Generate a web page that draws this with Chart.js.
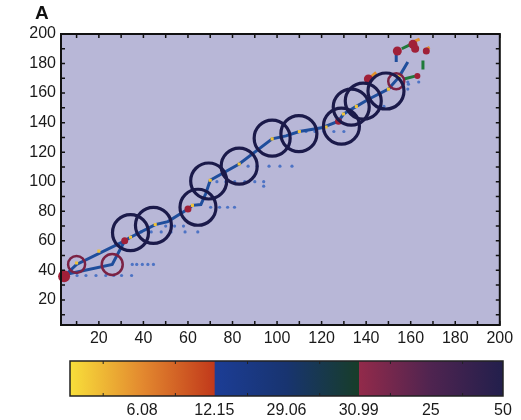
<!DOCTYPE html>
<html>
<head>
<meta charset="utf-8">
<script src="https://cdn.jsdelivr.net/npm/chart.js@4.4.1/dist/chart.umd.min.js"></script>
<style>
  html, body { margin: 0; padding: 0; background: #fff; overflow: hidden; }
  #wrap { position: relative; width: 521px; height: 420px; }
  #main { position: absolute; left: 0; top: 0; }
  #bar { position: absolute; left: 0; top: 345px; }
  #panel { position: absolute; left: 35px; top: 2px; font: bold 19px "Liberation Sans", Arial, sans-serif; color: #111; }
</style>
</head>
<body>
<div id="wrap">
  <canvas id="main" width="521" height="350"></canvas>
  <canvas id="bar" width="521" height="75"></canvas>
  <div id="panel">A</div>
</div>
<script>
// axes
const axisMin = 3;
const axisMax = 200;
const axisTicks = [10, 20, 30, 40, 50, 60, 70, 80, 90, 100, 110, 120, 130, 140, 150, 160, 170, 180, 190, 200];

// two early branches that meet at the first red point
const branchAX = [4.4, 10, 31.6];
const branchAY = [36, 44, 60];
const branchBX = [4.4, 26, 31.6];
const branchBY = [37, 44, 60];

// main trajectory
const pathX = [31.6, 34.2, 45.3, 51, 60, 62, 65.8, 68, 70, 83, 97.8, 104, 110, 120, 127.6, 129.8, 135.6, 141.3, 150, 154.7, 158.7];
const pathY = [60, 62.4, 71, 73, 81.5, 84, 84.5, 92, 101, 112, 129, 131, 134, 136.5, 141, 145.8, 151, 156, 162.7, 170.8, 181];

// yellow marks along the path
const markX = [10, 20, 34.2, 45.3, 62, 70, 83, 97.8, 110, 122, 129.8, 135.6, 150, 155];
const markY = [45, 53, 62.4, 71, 84, 101, 112, 129, 134, 137, 145.8, 151, 162.7, 172];

// faint blue dotted traces
const traceX = [10.2, 14.2, 18.7, 23.1, 26.7, 30.2, 34.7,
                35, 37, 39.5, 42, 44.5,
                39, 43.5, 48, 52.4, 58.7, 64.4, 50, 54, 58,
                70.2, 74.2, 77.8, 80.9,
                73, 77, 81, 85.5, 90, 94, 94,
                87, 91, 96.4, 101.3, 106.7,
                113, 117, 121, 125.5, 130,
                148, 158.7, 163.6, 158.7, 159];
const traceY = [36.5, 36.5, 36.5, 36.5, 36.5, 36.5, 36.5,
                44, 44, 44, 44, 44,
                66, 66, 66, 66, 66, 66, 70, 70, 70,
                82.7, 82.7, 82.7, 82.7,
                100, 100, 100, 100, 100, 100, 97,
                110.5, 110.5, 110.5, 110.5, 110.5,
                134, 134, 134, 134, 134,
                151, 167.5, 167.5, 162.7, 166];

// large dark circles
const bigCircleX = [34.2, 44.5, 64.5, 69.3, 83, 97.8, 109.8, 128.9, 133.3, 138.7, 148.9];
const bigCircleY = [65.5, 70.5, 82.7, 100.5, 110.5, 129.5, 132.5, 137.6, 150.5, 154.6, 161.4];

// small crimson rings
const ringX = [10, 26, 153.5];
const ringY = [44, 44, 168];
const ringR = [8.5, 10.5, 8];

// filled red dots
const dotX = [4.4, 31.6, 60, 127.6, 141, 154, 161, 162, 167, 163];
const dotY = [36, 60, 81.5, 141, 169.5, 188.5, 193, 190, 188.5, 171.5];
const dotR = [6, 3.5, 3.5, 3.5, 4.5, 4.5, 4.5, 4, 3.5, 3];

// short coloured strokes in the end cluster (null breaks segments)
const greenX = [156, 160, null, 165.5, 165.5, null, 157, 162];
const greenY = [190, 193, null, 176, 182, null, 169.5, 171.5];
const blueStickX = [153.5, 153.5];
const blueStickY = [181, 186];
const orangeX = [141, 144.5, null, 160, 164, null, 166, 168.5];
const orangeY = [169.5, 174, null, 194, 196.5, null, 189, 191];

// colour bar
const cbSegments = [[0, 1], [1, 2], [2, 3]];
const cbStops = [
  ['#f8df3a', '#e3892f', '#c1391b'],
  ['#1c3d96', '#183470', '#173d29'],
  ['#932a4a', '#4f2450', '#221f4c']
];
const cbTickValues = [0.5, 1, 1.5, 2, 2.5, 3];
const cbTickLabels = ['6.08', '12.15', '29.06', '30.99', '25', '50'];
const cbMinorTicks = [0.23, 0.73, 1.23, 1.73, 2.22, 2.72];

const toPts = (xs, ys) => xs.map((x, i) => (x === null ? { x: null, y: null } : { x, y: ys[i] }));

const plotBg = '#b8b7d7';
const textColor = '#1a1a1a';
const tickFont = { family: '"Liberation Sans", Arial, sans-serif', size: 16 };

// background, frame and inward tick marks
const framePlugin = {
  id: 'frame',
  beforeDraw(chart) {
    const { ctx, chartArea: a } = chart;
    ctx.save();
    ctx.fillStyle = plotBg;
    ctx.fillRect(a.left, a.top, a.width, a.height);
    ctx.restore();
  },
  afterDatasetsDraw(chart) {
    const { ctx, chartArea: a, scales } = chart;
    ctx.save();
    ctx.strokeStyle = '#111';
    ctx.lineWidth = 1.5;
    ctx.beginPath();
    axisTicks.forEach(v => {
      const px = scales.x.getPixelForValue(v);
      const py = scales.y.getPixelForValue(v);
      ctx.moveTo(px, a.bottom); ctx.lineTo(px, a.bottom - 4);
      ctx.moveTo(px, a.top); ctx.lineTo(px, a.top + 4);
      ctx.moveTo(a.left, py); ctx.lineTo(a.left + 4, py);
      ctx.moveTo(a.right, py); ctx.lineTo(a.right - 4, py);
    });
    ctx.stroke();
    ctx.lineWidth = 2;
    ctx.strokeRect(a.left, a.top, a.width, a.height);
    ctx.restore();
  }
};

new Chart(document.getElementById('main'), {
  type: 'scatter',
  data: {
    datasets: [
      {
        label: 'trace',
        data: toPts(traceX, traceY),
        showLine: false,
        pointRadius: 1.6,
        pointBackgroundColor: '#4d73c4',
        pointBorderWidth: 0,
        order: 9
      },
      {
        label: 'branchA',
        data: toPts(branchAX, branchAY),
        showLine: true,
        borderColor: '#1f4e9c',
        borderWidth: 3,
        pointRadius: 0,
        order: 8
      },
      {
        label: 'branchB',
        data: toPts(branchBX, branchBY),
        showLine: true,
        borderColor: '#1f4e9c',
        borderWidth: 3,
        pointRadius: 0,
        order: 8
      },
      {
        label: 'path',
        data: toPts(pathX, pathY),
        showLine: true,
        borderColor: '#1f4e9c',
        borderWidth: 3,
        pointRadius: 0,
        order: 7
      },
      {
        label: 'blueStick',
        data: toPts(blueStickX, blueStickY),
        showLine: true,
        borderColor: '#1f4e9c',
        borderWidth: 3,
        pointRadius: 0,
        order: 7
      },
      {
        label: 'green',
        data: toPts(greenX, greenY),
        showLine: true,
        spanGaps: false,
        borderColor: '#1f7a3a',
        borderWidth: 3,
        pointRadius: 0,
        order: 6
      },
      {
        label: 'orange',
        data: toPts(orangeX, orangeY),
        showLine: true,
        spanGaps: false,
        borderColor: '#e2902c',
        borderWidth: 3,
        pointRadius: 0,
        order: 6
      },
      {
        label: 'marks',
        data: toPts(markX, markY),
        showLine: false,
        pointStyle: 'rect',
        pointRadius: 2.2,
        pointBackgroundColor: '#eec23a',
        pointBorderWidth: 0,
        order: 5
      },
      {
        label: 'rings',
        data: toPts(ringX, ringY),
        showLine: false,
        pointRadius: ringR,
        pointBackgroundColor: 'rgba(0,0,0,0)',
        pointBorderColor: '#7b2244',
        pointBorderWidth: 2.5,
        order: 4
      },
      {
        label: 'dots',
        data: toPts(dotX, dotY),
        showLine: false,
        pointRadius: dotR,
        pointBackgroundColor: '#a02038',
        pointBorderWidth: 0,
        clip: false,
        order: 3
      },
      {
        label: 'circles',
        data: toPts(bigCircleX, bigCircleY),
        showLine: false,
        pointRadius: 18,
        pointBackgroundColor: 'rgba(0,0,0,0)',
        pointBorderColor: '#1b1a4a',
        pointBorderWidth: 3.2,
        order: 2
      }
    ]
  },
  options: {
    responsive: false,
    animation: false,
    events: [],
    layout: { padding: { top: 34, right: 17, bottom: 0, left: 0 } },
    plugins: { legend: { display: false }, tooltip: { enabled: false } },
    scales: {
      x: {
        type: 'linear',
        min: axisMin,
        max: axisMax,
        afterBuildTicks: s => { s.ticks = axisTicks.map(v => ({ value: v })); },
        afterFit: s => { s.height = 25; },
        grid: { display: false, drawTicks: false },
        border: { display: false },
        ticks: {
          autoSkip: false,
          maxRotation: 0,
          padding: 4,
          color: textColor,
          font: tickFont,
          callback: v => (v % 20 === 0 ? String(v) : '')
        }
      },
      y: {
        type: 'linear',
        min: axisMin,
        max: axisMax,
        afterBuildTicks: s => { s.ticks = axisTicks.map(v => ({ value: v })); },
        afterFit: s => { s.width = 61; },
        grid: { display: false, drawTicks: false },
        border: { display: false },
        ticks: {
          autoSkip: false,
          padding: 5,
          color: textColor,
          font: tickFont,
          callback: v => (v % 20 === 0 ? String(v) : '')
        }
      }
    }
  },
  plugins: [framePlugin]
});

// colour bar: three floating bars sharing one row, each filled with its gradient
const cbFramePlugin = {
  id: 'cbFrame',
  afterDatasetsDraw(chart) {
    const { ctx, chartArea: a, scales } = chart;
    ctx.save();
    ctx.strokeStyle = '#222';
    ctx.lineWidth = 1;
    ctx.beginPath();
    cbMinorTicks.forEach(v => {
      const px = scales.x.getPixelForValue(v);
      ctx.moveTo(px, a.top); ctx.lineTo(px, a.top + 3);
      ctx.moveTo(px, a.bottom); ctx.lineTo(px, a.bottom - 3);
    });
    ctx.stroke();
    ctx.lineWidth = 1.5;
    ctx.strokeRect(a.left, a.top, a.width, a.height);
    ctx.restore();
  }
};

const segGradient = i => ctx => {
  const chart = ctx.chart;
  if (!chart.chartArea) return cbStops[i][1];
  const xs = chart.scales.x;
  const g = chart.ctx.createLinearGradient(xs.getPixelForValue(cbSegments[i][0]), 0, xs.getPixelForValue(cbSegments[i][1]), 0);
  cbStops[i].forEach((c, k) => g.addColorStop(k / (cbStops[i].length - 1), c));
  return g;
};

new Chart(document.getElementById('bar'), {
  type: 'bar',
  data: {
    labels: ['scale'],
    datasets: cbSegments.map((seg, i) => ({
      label: 'seg' + i,
      data: [seg],
      backgroundColor: segGradient(i),
      borderWidth: 0,
      grouped: false,
      barPercentage: 1,
      categoryPercentage: 1
    }))
  },
  options: {
    indexAxis: 'y',
    responsive: false,
    animation: false,
    events: [],
    layout: { padding: { top: 16, right: 18, bottom: 0, left: 70 } },
    plugins: { legend: { display: false }, tooltip: { enabled: false } },
    scales: {
      x: {
        type: 'linear',
        min: 0,
        max: 3,
        afterBuildTicks: s => { s.ticks = cbTickValues.map(v => ({ value: v })); },
        afterFit: s => { s.height = 24; },
        grid: { display: false, drawTicks: false },
        border: { display: false },
        ticks: {
          autoSkip: false,
          maxRotation: 0,
          padding: 5,
          color: textColor,
          font: tickFont,
          callback: (v, idx) => cbTickLabels[idx]
        }
      },
      y: { display: false }
    }
  },
  plugins: [cbFramePlugin]
});
</script>
</body>
</html>
